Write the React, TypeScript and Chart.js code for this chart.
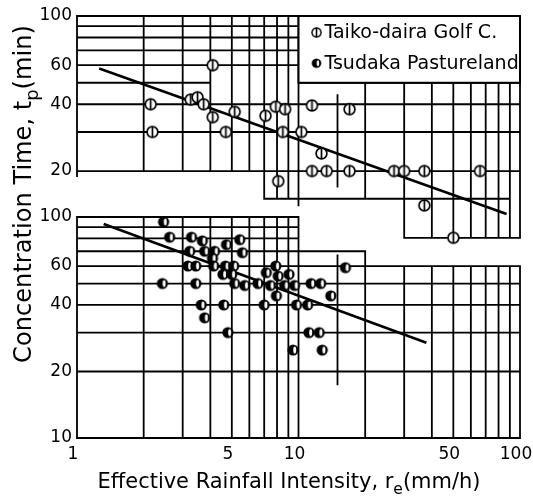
import React, { useEffect, useRef } from 'react';
import { Chart, registerables } from 'chart.js';

Chart.register(...registerables);

const FONT_FAMILY = '"DejaVu Sans", "Liberation Sans", sans-serif';

// ---------------- data ----------------
const seriesNames = ['Taiko-daira Golf C.', 'Tsudaka Pastureland'];

// Upper panel: Taiko-daira Golf C.
const taikoX = [2.15, 2.19, 3.26, 3.5, 3.73, 4.1, 4.1, 4.7, 5.15, 7.1, 7.9, 8.7, 8.5, 8.1, 10.3, 11.5, 17, 12.7, 11.5, 13.4, 17, 27, 30, 37, 66, 37, 50];
const taikoY = [40, 30, 42, 43, 40, 60, 35, 30, 37, 35.5, 39, 38, 30, 18, 30, 39.5, 38, 24, 20, 20, 20, 20, 20, 20, 20, 14, 10];

// Lower panel: Tsudaka Pastureland
const tsudakaX = [2.46, 2.62, 3.29, 3.68, 3.23, 3.77, 4.18, 4.09, 3.17, 3.44, 4.14, 4.73, 5.43, 5.58, 4.68, 5.1, 4.56, 5.0, 5.15, 5.72, 6.56, 7.47, 2.43, 3.44, 7.16, 7.9, 8.1, 9.06, 8.66, 9.6, 7.95, 3.64, 3.77, 4.6, 4.8, 7.0, 9.8, 11.0, 9.45, 11.4, 12.6, 14.0, 11.15, 12.4, 12.8, 16.3];
const tsudakaY = [95, 81, 81, 78, 70, 70, 70, 65, 60, 60, 60, 75, 79, 69, 60, 60, 55, 55, 50, 49, 50, 49, 50, 50, 56, 60, 54, 55, 49, 49, 44, 40, 35, 40, 30, 40, 40, 40, 25, 50, 50, 44, 30, 30, 25, 59];

// fitted lines (end points)
const taikoFitX = [1.26, 87];
const taikoFitY = [58, 12.8];
const tsudakaFitX = [1.32, 37.8];
const tsudakaFitY = [93, 27];

// tick labels
const xTicks = [1, 5, 10, 50, 100];
const upperTicks = [20, 40, 60, 100];
const lowerTicks = [10, 20, 40, 60, 100];

// axis titles: [main, subscript, rest]
const xTitle = ['Effective Rainfall Intensity, r', 'e', '(mm/h)'];
const yTitle = ['Concentration Time, t', 'p', '(min)'];

// graph-paper runs: rows [y, xFrom, xTo], columns [x, yFrom, yTo]
const upperRows = [
  [100, 1, 100], [90, 1, 10], [80, 1, 10], [70, 1, 10], [60, 1, 10],
  [50, 1, 4], [50, 10, 100], [40, 1, 100], [30, 1, 100], [20, 1, 100],
  [15, 7, 90], [10, 30, 100],
];
const upperCols = [
  [1, 100, 19], [2, 100, 20], [3, 100, 20], [4, 100, 20], [5, 100, 20], [6, 100, 20],
  [7, 100, 15], [8, 100, 15], [9, 100, 15], [10, 100, 14], [15, 44, 17], [20, 50, 15],
  [30, 50, 10], [40, 50, 10], [50, 50, 10], [60, 50, 10], [70, 50, 10], [80, 50, 10],
  [90, 50, 10], [100, 100, 10],
];
const lowerRows = [
  [100, 1, 10], [90, 1, 10], [80, 1, 10], [70, 1, 20], [60, 1, 100],
  [50, 1, 100], [40, 1, 100], [30, 1, 100], [20, 1, 100], [10, 1, 100],
];
const lowerCols = [
  [1, 100, 10], [2, 100, 10], [3, 100, 10], [4, 100, 10], [5, 100, 10], [6, 100, 10],
  [7, 100, 10], [8, 100, 10], [9, 100, 10], [10, 100, 10], [15, 67, 17.5], [20, 70, 10],
  [30, 60, 10], [40, 60, 10], [50, 60, 10], [60, 60, 10], [70, 60, 10], [80, 60, 10],
  [90, 60, 10], [100, 60, 10],
];

// ---------------- helpers ----------------
function makeMarker(kind: 'open' | 'half', r: number): HTMLCanvasElement {
  const size = Math.ceil(r * 2 + 4);
  const c = document.createElement('canvas');
  c.width = size;
  c.height = size;
  const g = c.getContext('2d') as CanvasRenderingContext2D;
  const cx = size / 2;
  const cy = size / 2;
  if (kind === 'open') {
    g.beginPath();
    g.arc(cx, cy, r, 0, Math.PI * 2);
    g.fillStyle = '#fff';
    g.fill();
    g.lineWidth = 1.7;
    g.strokeStyle = '#000';
    g.stroke();
    g.beginPath();
    g.moveTo(cx, cy - r);
    g.lineTo(cx, cy + r);
    g.stroke();
  } else {
    g.beginPath();
    g.arc(cx, cy, r, 0, Math.PI * 2);
    g.fillStyle = '#000';
    g.fill();
    g.beginPath();
    g.ellipse(cx + 1.7, cy, 1.5, r - 2.2, 0, 0, Math.PI * 2);
    g.fillStyle = '#fff';
    g.fill();
  }
  return c;
}

function drawRich(ctx: CanvasRenderingContext2D, parts: string[], size: number, cx: number, baseline: number) {
  const main = `${size}px ${FONT_FAMILY}`;
  const sub = `${(size * 0.74).toFixed(2)}px ${FONT_FAMILY}`;
  ctx.font = main;
  const w0 = ctx.measureText(parts[0]).width;
  const w2 = ctx.measureText(parts[2]).width;
  ctx.font = sub;
  const w1 = ctx.measureText(parts[1]).width;
  let x = cx - (w0 + w1 + w2) / 2;
  ctx.textAlign = 'left';
  ctx.textBaseline = 'alphabetic';
  ctx.font = main;
  ctx.fillText(parts[0], x, baseline);
  x += w0;
  ctx.font = sub;
  ctx.fillText(parts[1], x, baseline + size * 0.28);
  x += w1;
  ctx.font = main;
  ctx.fillText(parts[2], x, baseline);
}

function fitSize(ctx: CanvasRenderingContext2D, parts: string[], target: number): number {
  const base = 20;
  ctx.font = `${base}px ${FONT_FAMILY}`;
  const w = ctx.measureText(parts[0]).width + ctx.measureText(parts[2]).width;
  ctx.font = `${base * 0.74}px ${FONT_FAMILY}`;
  const w1 = ctx.measureText(parts[1]).width;
  return (base * target) / (w + w1);
}

export default function App() {
  const ref = useRef<HTMLCanvasElement | null>(null);

  useEffect(() => {
    const canvas = ref.current;
    if (!canvas) return;
    const openMark = makeMarker('open', 5.4);
    const halfMark = makeMarker('half', 5.6);

    const paperPlugin = {
      id: 'paperGrid',
      beforeDatasetsDraw(chart: any) {
        const ctx = chart.ctx as CanvasRenderingContext2D;
        const xs = chart.scales.x;
        ctx.save();
        ctx.strokeStyle = '#000';
        ctx.lineWidth = 1.8;
        ctx.lineCap = 'square';
        const drawSet = (ys: any, rows: number[][], cols: number[][]) => {
          ctx.beginPath();
          for (const [y, a, b] of rows) {
            const py = ys.getPixelForValue(y);
            ctx.moveTo(xs.getPixelForValue(a), py);
            ctx.lineTo(xs.getPixelForValue(b), py);
          }
          for (const [x, a, b] of cols) {
            const px = xs.getPixelForValue(x);
            ctx.moveTo(px, ys.getPixelForValue(a));
            ctx.lineTo(px, ys.getPixelForValue(b));
          }
          ctx.stroke();
        };
        drawSet(chart.scales.yUp, upperRows, upperCols);
        drawSet(chart.scales.yLow, lowerRows, lowerCols);
        ctx.restore();
      },
      afterDatasetsDraw(chart: any) {
        const ctx = chart.ctx as CanvasRenderingContext2D;
        const xs = chart.scales.x;
        const ys = chart.scales.yUp;
        const left = xs.getPixelForValue(10);
        const right = xs.getPixelForValue(100);
        const top = ys.getPixelForValue(100);
        const bottom = ys.getPixelForValue(50);
        ctx.save();
        ctx.fillStyle = '#fff';
        ctx.fillRect(left, top, right - left, bottom - top);
        ctx.strokeStyle = '#000';
        ctx.lineWidth = 2;
        ctx.strokeRect(left, top, right - left, bottom - top);
        const h = bottom - top;
        const rowsY = [top + h * 0.247, top + h * 0.707];
        const marks = [openMark, halfMark];
        ctx.fillStyle = '#000';
        ctx.font = `19px ${FONT_FAMILY}`;
        ctx.textAlign = 'left';
        ctx.textBaseline = 'middle';
        seriesNames.forEach((name, i) => {
          const m = marks[i];
          const s = m.width * 0.85;
          ctx.drawImage(m, left + 18 - s / 2, rowsY[i] - s / 2, s, s);
          ctx.fillText(name, left + 26, rowsY[i] + 1);
        });
        ctx.restore();
      },
      afterDraw(chart: any) {
        const ctx = chart.ctx as CanvasRenderingContext2D;
        ctx.save();
        ctx.fillStyle = '#000';
        const xs = fitSize(ctx, xTitle, 383);
        drawRich(ctx, xTitle, xs, 289, 488);
        const ysz = fitSize(ctx, yTitle, 338);
        ctx.translate(31, 194);
        ctx.rotate(-Math.PI / 2);
        drawRich(ctx, yTitle, ysz, 0, 0);
        ctx.restore();
      },
    };

    const tickFont = { family: FONT_FAMILY, size: 17 };
    const yScaleBase = {
      type: 'logarithmic',
      position: 'left',
      bounds: 'data',
      grid: { display: false, drawTicks: false },
      border: { display: false },
      ticks: { font: tickFont, color: '#000', padding: 5, autoSkip: false, callback: (v: any) => String(v) },
    };

    const chart = new Chart(canvas, {
      type: 'scatter',
      data: {
        datasets: [
          {
            type: 'scatter',
            label: seriesNames[0],
            data: taikoX.map((x, i) => ({ x, y: taikoY[i] })),
            yAxisID: 'yUp',
            pointStyle: openMark as any,
            pointRadius: 6,
          },
          {
            type: 'scatter',
            label: seriesNames[1],
            data: tsudakaX.map((x, i) => ({ x, y: tsudakaY[i] })),
            yAxisID: 'yLow',
            pointStyle: halfMark as any,
            pointRadius: 6,
          },
          {
            type: 'line',
            label: 'fit upper',
            data: taikoFitX.map((x, i) => ({ x, y: taikoFitY[i] })),
            yAxisID: 'yUp',
            borderColor: '#000',
            borderWidth: 2.6,
            pointRadius: 0,
            fill: false,
          },
          {
            type: 'line',
            label: 'fit lower',
            data: tsudakaFitX.map((x, i) => ({ x, y: tsudakaFitY[i] })),
            yAxisID: 'yLow',
            borderColor: '#000',
            borderWidth: 2.6,
            pointRadius: 0,
            fill: false,
          },
        ],
      } as any,
      options: {
        animation: false,
        responsive: false,
        devicePixelRatio: 1,
        layout: { padding: { top: 16, right: 13, bottom: 0, left: 0 } },
        plugins: { legend: { display: false }, tooltip: { enabled: false } },
        scales: {
          x: {
            type: 'logarithmic',
            position: 'bottom',
            min: 1,
            max: 100,
            bounds: 'data',
            grid: { display: false, drawTicks: false },
            border: { display: false },
            ticks: { font: tickFont, color: '#000', padding: 6, labelOffset: -4, maxRotation: 0, autoSkip: false, callback: (v: any) => String(v) },
            afterBuildTicks: (s: any) => { s.ticks = xTicks.map((v) => ({ value: v })); },
            afterFit: (s: any) => { s.height = 59; s.paddingLeft = 0; s.paddingRight = 0; },
          },
          yLow: {
            ...yScaleBase,
            min: 10,
            max: 812.3,
            weight: 1,
            afterBuildTicks: (s: any) => { s.ticks = lowerTicks.map((v) => ({ value: v })); },
            afterFit: (s: any) => { s.width = 77; },
          },
          yUp: {
            ...yScaleBase,
            min: 1.2515,
            max: 100,
            weight: 0,
            afterBuildTicks: (s: any) => { s.ticks = upperTicks.map((v) => ({ value: v })); },
            afterFit: (s: any) => {
              s.width = 0;
              // labels share the outer column with the lower axis; do not clip them to the zero-width box
              s._computeLabelArea = () => undefined;
            },
          },
        },
      } as any,
      plugins: [paperPlugin],
    });
    return () => chart.destroy();
  }, []);

  return (
    <div style={{ position: 'absolute', left: 0, top: 0, width: 533, height: 497, background: '#fff' }}>
      <canvas ref={ref} width={533} height={497} />
    </div>
  );
}
